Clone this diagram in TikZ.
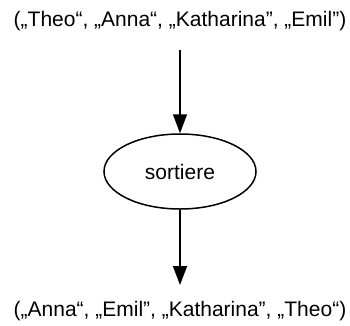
\documentclass[tikz,border=0pt]{standalone}
\usepackage{fontspec}
\setmainfont{Liberation Sans}
\usetikzlibrary{shapes.geometric,arrows.meta}
\begin{document}
\begin{tikzpicture}[x=1pt,y=-1pt,
  lbl/.style={font=\fontsize{21}{25}\selectfont, inner sep=0pt},
  proc/.style={ellipse, draw, line width=1.5pt, inner sep=0pt, minimum width=152pt, minimum height=75pt, font=\fontsize{21}{25}\selectfont},
  flow/.style={line width=1.5pt, -{Triangle[length=19pt,width=14pt]}}]
\useasboundingbox (0,0) rectangle (350,325);
\node[lbl] (in) at (180,21) {(„Theo“, „Anna“, „Katharina”, „Emil”)};
\node[proc] (s) at (180,171.5) {sortiere};
\node[lbl] (out) at (180,311) {(„Anna“, „Emil”, „Katharina”, „Theo“)};
\coordinate (a) at (180,50);
\coordinate (b) at (180,285);
\draw[flow] (a) -- (s.north);
\draw[flow] (s.south) -- (b);
\end{tikzpicture}
\end{document}
